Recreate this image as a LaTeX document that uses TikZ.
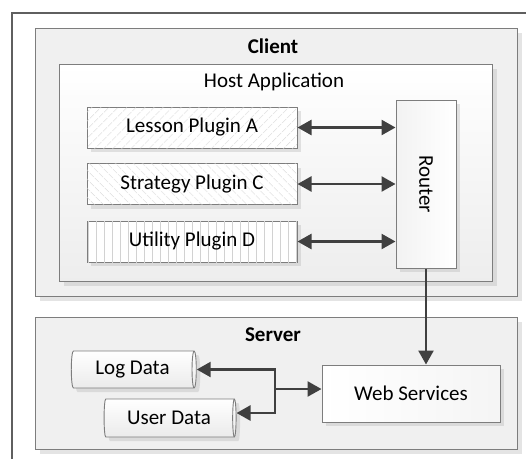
\documentclass[tikz,border=0pt]{standalone}
\usepackage{fontspec}
\setmainfont{Carlito}
\usetikzlibrary{arrows.meta, positioning, shapes.geometric, shadows, patterns.meta}
\definecolor{line1}{RGB}{125,125,125}
\definecolor{frame1}{RGB}{95,95,95}
\definecolor{arrow1}{RGB}{64,64,64}
\definecolor{hatch1}{RGB}{210,210,210}

\begin{document}
\begin{tikzpicture}[x=1pt, y=-1pt, font=\fontsize{21}{25}\selectfont,
  shade1/.style={drop shadow={fill=black!30, opacity=.35, shadow xshift=4pt, shadow yshift=-4pt}},
  panel/.style={draw=line1, line width=1.1pt, fill=black!6, shade1, anchor=north west, inner sep=0pt},
  hostbox/.style={draw=line1, line width=1.1pt, top color=white, bottom color=black!7, shade1, anchor=north west, inner sep=0pt},
  plugin/.style={draw=line1, line width=1pt, fill=white, shade1, minimum width=210pt, minimum height=41pt, inner sep=0pt},
  hatch/.style 2 args={postaction={pattern={Lines[angle=#1, distance=#2, line width=.5pt]}, pattern color=hatch1}},
  box/.style={draw=line1, line width=1pt, left color=black!5, right color=white, shade1, inner sep=0pt},
  store/.style={cylinder, draw=line1, line width=.9pt, shape aspect=.25, top color=white, bottom color=black!8, shade1, inner sep=0pt},
  biarr/.style={{Triangle[length=14pt, width=15pt]}-{Triangle[length=14pt, width=15pt]}, line width=2.5pt, draw=arrow1},
  arr/.style={-{Triangle[length=14pt, width=15pt]}, line width=2.5pt, draw=arrow1},
  title/.style={font=\fontsize{21}{25}\selectfont\bfseries}]
  \useasboundingbox (0,0) rectangle (526,459);

  % outer frame
  \draw[frame1, line width=1.2pt] (526,13) -- (12,13) -- (12,459);

  % client side
  \node[panel, minimum width=482pt, minimum height=268pt] (client) at (35,28) {};
  \node[title] (clientlbl) at (273,46) {Client};
  \node[hostbox, minimum width=433pt, minimum height=217pt] (host) at (59,64) {};
  \node (hostlbl) at (274,82) {Host Application};

  \node[plugin, hatch={45}{6.5pt}] (lesson) at (192,127.5) {Lesson Plugin A};
  \node[plugin, hatch={-45}{6.5pt}] (strategy) at (192,184) {Strategy Plugin C};
  \node[plugin, hatch={90}{8pt}] (utility) at (192,241.5) {Utility Plugin D};

  \node[box, minimum width=60pt, minimum height=168pt] (router) at (426,184) {};
  \node[rotate=-90] (routerlbl) at (router.center) {Router};

  \draw[biarr] (lesson.east) -- (lesson.east -| router.west);
  \draw[biarr] (strategy.east) -- (strategy.east -| router.west);
  \draw[biarr] (utility.east) -- (utility.east -| router.west);

  % server side
  \node[panel, minimum width=482pt, minimum height=132pt] (server) at (35,317) {};
  \node[title] (serverlbl) at (273,335) {Server};
  \node[box, left color=white, right color=black!4, minimum width=178pt, minimum height=57pt] (ws) at (411,393.5) {Web Services};
  \node[store, minimum height=125pt, minimum width=37pt] (log) at (132.5,369.5) {Log Data};
  \node[store, minimum height=132pt, minimum width=38pt] (user) at (169,418) {User Data};

  \draw[arr] (router.south) -- (router.south |- ws.north);
  \coordinate (jn) at (275,389);
  \draw[arr] (jn) -- (jn -| ws.west);
  \draw[arr] (jn) |- (log.east);
  \draw[arr] (jn) |- ([yshift=5pt]user.east);
\end{tikzpicture}
\end{document}
